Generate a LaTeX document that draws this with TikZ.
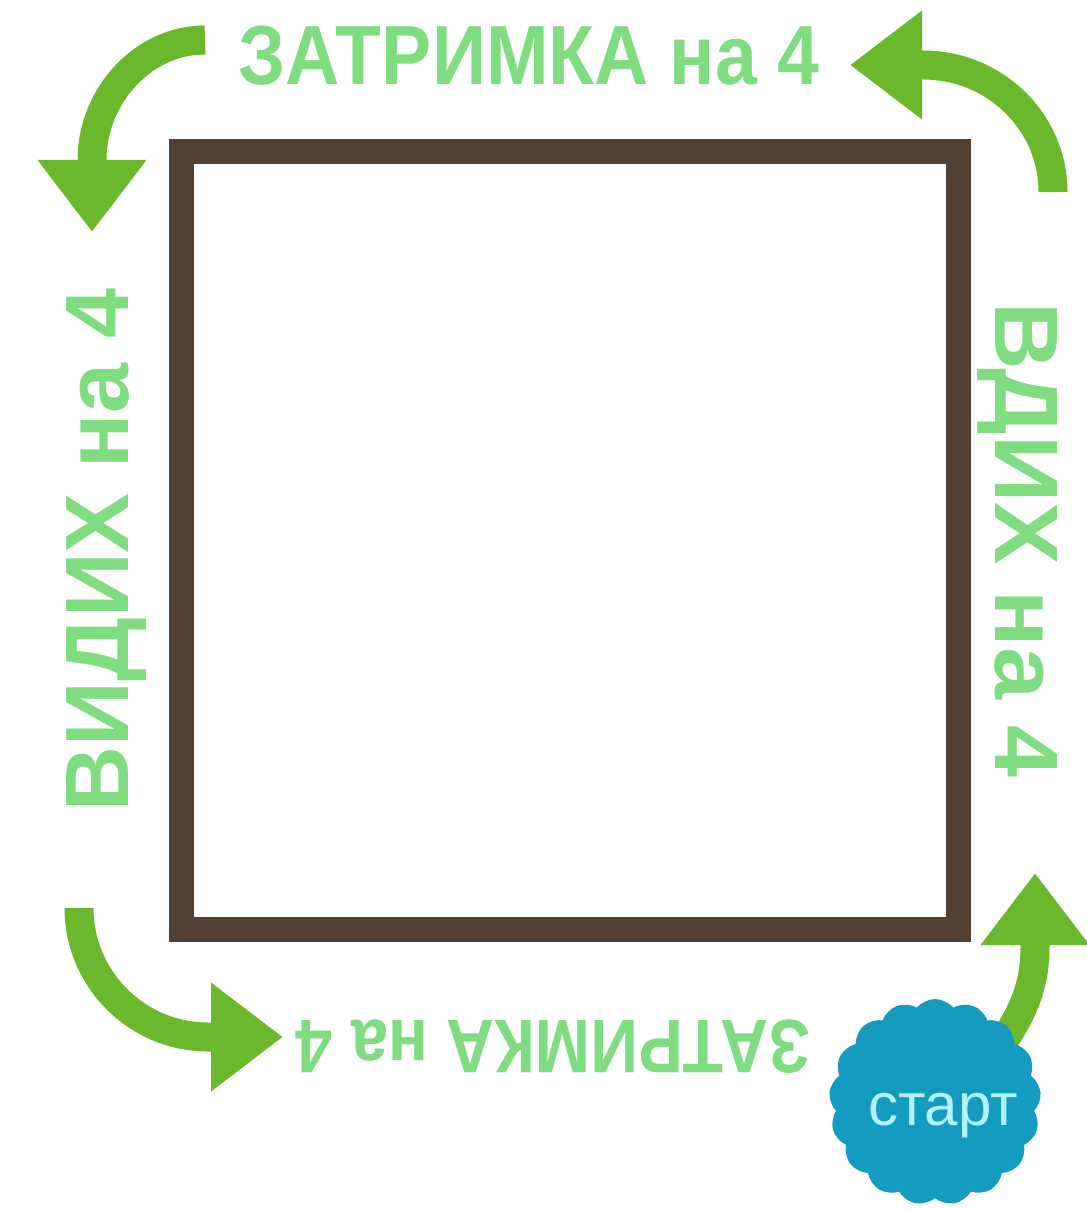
\documentclass[tikz,border=0pt]{standalone}
\usepackage{graphicx}
\usepackage{fontspec}
\setmainfont{Liberation Sans}
\usetikzlibrary{arrows.meta,shapes.symbols}

\definecolor{framebrown}{RGB}{82,64,50}
\definecolor{arrowgreen}{RGB}{108,184,44}
\definecolor{textgreen}{RGB}{128,220,128}
\definecolor{cloudblue}{RGB}{22,155,192}
\definecolor{startcyan}{RGB}{178,242,255}

\newcommand{\narrow}[2]{\scalebox{#1}[1]{#2}}

\begin{document}
\begin{tikzpicture}[x=1pt, y=-1pt,
    frm/.style={draw=framebrown, line width=25pt},
    turn/.style={draw=arrowgreen, line width=29pt,
                 -{Triangle[length=72pt, width=104pt]}},
    lbl/.style={text=textgreen, inner sep=0pt, anchor=base},
    side/.style={lbl, font=\fontsize{90}{90}\selectfont\bfseries},
    startcloud/.style={cloud, cloud puffs=17, cloud puff arc=100, aspect=1,
                       fill=cloudblue, minimum width=212pt, minimum height=206pt,
                       inner sep=0pt},
  ]
  \useasboundingbox (0,0) rectangle (1086,1209);

  % frame
  \draw[frm] (181,152) rectangle (958,929);

  % labels
  \node[lbl, font=\fontsize{84}{84}\selectfont\bfseries] (holdtop) at (529,85) {\narrow{0.895}{ЗАТРИМКА на 4}};
  \node[side, rotate=-90] (inhale) at (995,540) {\narrow{1.04}{ВДИХ на 4}};
  \node[side, rotate=90] (exhale) at (128,550) {ВИДИХ на 4};
  \node[lbl, font=\fontsize{76}{76}\selectfont\bfseries, rotate=180] (holdbot) at (553,1020) {\narrow{0.875}{ЗАТРИМКА на 4}};

  % arrow ends
  \coordinate (tl0) at (205,40);
  \coordinate (tl1) at (92,160);
  \coordinate (tl2) at (92,232);
  \coordinate (tr0) at (1053,192);
  \coordinate (tr1) at (923,65);
  \coordinate (tr2) at (850,65);
  \coordinate (bl0) at (79,908);
  \coordinate (bl1) at (208,1037);
  \coordinate (bl2) at (283,1037);
  \coordinate (br0) at (990,1060);
  \coordinate (br1) at (1035,947);
  \coordinate (br2) at (1035,873);

  \draw[turn] (tl0) .. controls (142,40) and (92,97) .. (tl1) -- (tl2);
  \draw[turn] (tr0) .. controls (1053,122) and (995,65) .. (tr1) -- (tr2);
  \draw[turn] (bl0) .. controls (79,979) and (137,1037) .. (bl1) -- (bl2);
  \draw[turn] (br0) .. controls (1020,1020) and (1035,990) .. (br1) -- (br2);

  % start
  \node[startcloud] (start) at (935,1102) {};
  \node[text=startcyan, font=\fontsize{60}{60}\selectfont, inner sep=0pt] (starttxt) at (943,1116) {старт};
\end{tikzpicture}
\end{document}
